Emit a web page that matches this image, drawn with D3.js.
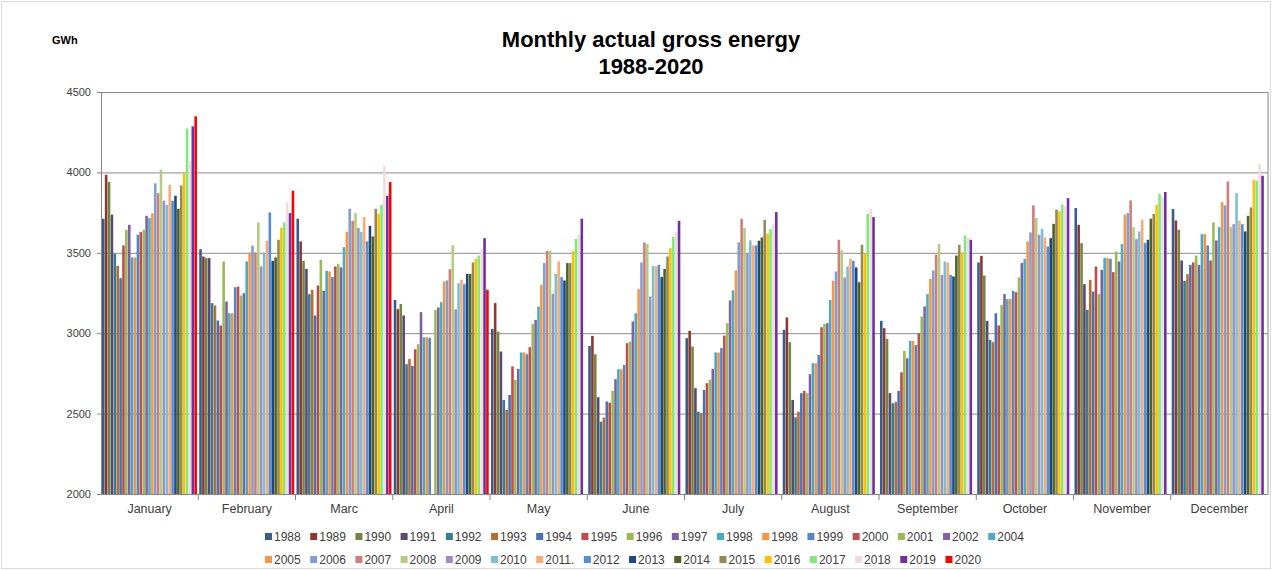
<!DOCTYPE html>
<html>
<head>
<meta charset="utf-8">
<script src="https://cdn.jsdelivr.net/npm/d3@7"></script>
<style>
  body { margin: 0; background: #fff; }
  text { font-family: "Liberation Sans", Arial, sans-serif; }
  .axis path, .axis line { stroke: #868686; }
  .axis text { fill: #404040; }
  .grid line { stroke: #8c8c8c; }
  .grid path { display: none; }
</style>
</head>
<body>
<script>

// categories
var months = ["January", "February", "Marc", "April", "May", "June", "July", "August", "September", "October", "November", "December"];

// series labels (as printed in the legend)
var years = ["1988", "1989", "1990", "1991", "1992", "1993", "1994", "1995", "1996", "1997", "1998", "1998", "1999", "2000", "2001", "2002", "2004",
             "2005", "2006", "2007", "2008", "2009", "2010", "2011.", "2012", "2013", "2014", "2015", "2016", "2017", "2018", "2019", "2020"];

// GWh per month, one value per series (null = no value)
var jan = [3712, 3985, 3940, 3737, 3494, 3419, 3342, 3546, 3643, 3674, 3471, 3471, 3612, 3629, 3641, 3730, 3716, 3745, 3932, 3871, 4017, 3824, 3799, 3923, 3824, 3855, 3774, 3919, 3996, 4272, 4073, 4286, 4349];
var feb = [3523, 3477, 3467, 3467, 3187, 3172, 3079, 3048, 3446, 3197, 3124, 3124, 3286, 3290, 3234, 3249, 3446, 3502, 3544, 3502, 3689, 3415, 3502, 3575, 3751, 3450, 3471, 3581, 3654, 3689, 3815, 3747, 3886];
var mar = [3712, 3571, 3450, 3400, 3243, 3270, 3110, 3297, 3456, 3263, 3388, 3384, 3349, 3415, 3432, 3409, 3535, 3631, 3774, 3699, 3747, 3654, 3631, 3722, 3571, 3668, 3602, 3774, 3741, 3799, 4041, 3855, 3940];
var apr = [3207, 3149, 3182, 3110, 2807, 2840, 2797, 2900, 2931, 3131, 2975, 2975, 2970, null, 3145, 3160, 3193, 3322, 3328, 3398, 3546, 3149, 3311, 3332, 3305, 3369, 3369, 3440, 3463, 3483, 3525, 3591, 3270];
var may = [3027, 3187, 3010, 2886, 2585, 2523, 2616, 2793, 2710, 2778, 2880, 2880, 2869, 2913, 3058, 3083, 3166, 3301, 3436, 3512, 3512, 3245, 3369, 3446, 3349, 3328, 3436, 3436, 3512, 3587, 3612, 3712, null];
var jun = [2921, 2983, 2869, 2602, 2450, 2475, 2575, 2568, 2641, 2714, 2776, 2776, 2803, 2938, 2948, 3073, 3124, 3274, 3440, 3564, 3554, 3228, 3419, 3415, 3425, 3349, 3400, 3477, 3529, 3598, 3633, 3699, null];
var jul = [2969, 3015, 2917, 2658, 2512, 2502, 2647, 2689, 2710, 2778, 2880, 2880, 2907, 2985, 3062, 3203, 3266, 3390, 3564, 3712, 3654, 3498, 3577, 3546, 3546, 3575, 3595, 3705, 3618, 3647, 3678, 3753, null];
var aug = [3021, 3098, 2944, 2585, 2477, 2512, 2627, 2641, 2627, 2745, 2813, 2813, 2865, 3037, 3058, 3062, 3207, 3326, 3384, 3581, 3515, 3346, 3415, 3463, 3450, 3409, 3317, 3550, 3498, 3741, 3774, 3722, null];
var sep = [3077, 3031, 2965, 2627, 2564, 2571, 2641, 2757, 2890, 2844, 2952, 2952, 2927, 3000, 3104, 3166, 3243, 3338, 3390, 3488, 3556, 3363, 3446, 3440, 3363, 3353, 3483, 3550, 3502, 3608, 3595, 3581, null];
var oct = [3440, 3481, 3359, 3077, 2959, 2944, 3124, 3048, 3176, 3243, 3212, 3212, 3263, 3255, 3346, 3436, 3461, 3571, 3627, 3795, 3716, 3612, 3649, 3595, 3539, 3591, 3680, 3768, 3757, 3799, 3790, 3840, null];
var nov = [3778, 3674, 3560, 3305, 3145, 3332, 3259, 3415, 3243, 3394, 3467, 3467, 3463, 3380, 3508, 3446, 3554, 3737, 3747, 3826, 3660, 3585, 3633, 3705, 3560, 3581, 3712, 3741, 3799, 3867, 3846, 3878, null];
var dec = [3772, 3701, 3643, 3452, 3326, 3367, 3425, 3440, 3483, 3425, 3616, 3616, 3546, 3452, 3689, 3577, 3660, 3815, 3795, 3944, 3660, 3678, 3871, 3699, 3678, 3633, 3730, 3782, 3954, 3948, 4052, 3979, null];

// y axis ticks
var yTicks = [2000, 2500, 3000, 3500, 4000, 4500];

// series colours (Excel style palette)
var colors = ["#385D8A", "#8C3836", "#71893F", "#5C4776", "#357D91", "#B66D31", "#4672B4", "#BE4B48", "#98B954", "#7D60A0", "#46AAC5", "#F69240", "#5585C6",
              "#C0504D", "#9BBB59", "#8064A2", "#4BACC6", "#F79646", "#7F9FD0", "#D07D7B", "#B3CC82", "#A08FC2", "#78C0D4", "#FAAA72", "#558ED5",
              "#1F497D", "#4F6228", "#948A54", "#FFC000", "#7CEB7C", "#F2DCDB", "#7030A0", "#FF0000"];

var monthValues = [jan, feb, mar, apr, may, jun, jul, aug, sep, oct, nov, dec];

// build table rows: one per month
var data = months.map(function(m, i) {
  return { month: m, values: monthValues[i].map(function(v, j) { return { key: j, value: v }; }) };
});

var W = 1273, H = 570;
var margin = {top: 92, right: 5, bottom: 76, left: 101};
var width = W - margin.left - margin.right,
    height = H - margin.top - margin.bottom;

var svg = d3.select("body").append("svg")
    .attr("width", W)
    .attr("height", H);

// outer chart frame
svg.append("rect")
    .attr("x", 1.5).attr("y", 1.5)
    .attr("width", W - 4).attr("height", H - 3)
    .attr("fill", "none")
    .attr("stroke", "#d9d9d9");

var g = svg.append("g")
    .attr("transform", "translate(" + margin.left + "," + margin.top + ")");

var x0 = d3.scaleBand()
    .domain(months)
    .range([0, width])
    .paddingInner(0.02)
    .paddingOuter(0.01);

var x1 = d3.scaleBand()
    .domain(d3.range(years.length))
    .range([0, x0.bandwidth()]);

var y = d3.scaleLinear()
    .domain([2000, 4500])
    .range([height, 0]);

var color = d3.scaleOrdinal()
    .domain(d3.range(years.length))
    .range(colors);

// gridlines
g.append("g")
    .attr("class", "grid")
    .call(d3.axisLeft(y).tickValues(yTicks).tickSize(-width).tickFormat(""));

// bars
var month = g.selectAll(".month")
    .data(data)
    .enter().append("g")
    .attr("class", "month")
    .attr("transform", function(d) { return "translate(" + x0(d.month) + ",0)"; });

month.selectAll("rect")
    .data(function(d) { return d.values.filter(function(v) { return v.value != null; }); })
    .enter().append("rect")
    .attr("x", function(d) { return x1(d.key); })
    .attr("y", function(d) { return y(d.value); })
    .attr("width", x1.bandwidth() - 0.3)
    .attr("height", function(d) { return height - y(d.value); })
    .attr("fill", function(d) { return color(d.key); });

// y axis
var yAxis = g.append("g")
    .attr("class", "axis axis--y")
    .call(d3.axisLeft(y).tickValues(yTicks).tickFormat(d3.format("d")).tickSize(4).tickSizeOuter(0).tickPadding(6));
yAxis.selectAll("text").style("font-size", "11px");

// right border of plot
g.append("line")
    .attr("x1", width).attr("x2", width)
    .attr("y1", 0).attr("y2", height)
    .attr("stroke", "#868686");

// x axis with labels
var xAxis = g.append("g")
    .attr("class", "axis axis--x")
    .attr("transform", "translate(0," + height + ")")
    .call(d3.axisBottom(x0).tickSize(0).tickSizeOuter(0).tickPadding(10));
xAxis.selectAll("text").style("font-size", "12.5px");

// separators between months
var step = x0.step();
xAxis.selectAll(".sep")
    .data(months.slice(1))
    .enter().append("line")
    .attr("class", "sep")
    .attr("x1", function(d) { return x0(d) - step * x0.paddingInner() / 2; })
    .attr("x2", function(d) { return x0(d) - step * x0.paddingInner() / 2; })
    .attr("y1", 0).attr("y2", 6)
    .attr("stroke", "#868686");

// unit label
svg.append("text")
    .attr("x", 52).attr("y", 44)
    .style("font-size", "11px")
    .style("font-weight", "bold")
    .text("GWh");

// title
svg.append("text")
    .attr("x", 651).attr("y", 47)
    .attr("text-anchor", "middle")
    .style("font-size", "22px")
    .style("font-weight", "bold")
    .text("Monthly actual gross energy");
svg.append("text")
    .attr("x", 651).attr("y", 74)
    .attr("text-anchor", "middle")
    .style("font-size", "22px")
    .style("font-weight", "bold")
    .text("1988-2020");

// legend, two rows
var rows = [d3.range(0, 17), d3.range(17, years.length)];
rows.forEach(function(row, r) {
  var lx = 265;
  row.forEach(function(i) {
    var item = svg.append("g")
        .attr("transform", "translate(" + lx + "," + (537 + r * 23) + ")");
    item.append("rect")
        .attr("x", 0).attr("y", -4)
        .attr("width", 7).attr("height", 7)
        .attr("fill", color(i));
    var t = item.append("text")
        .attr("x", 9).attr("y", 4)
        .attr("fill", "#404040")
        .style("font-size", "12px")
        .text(years[i]);
    lx += 9 + t.node().getComputedTextLength() + 9.5;
  });
});

</script>
</body>
</html>
